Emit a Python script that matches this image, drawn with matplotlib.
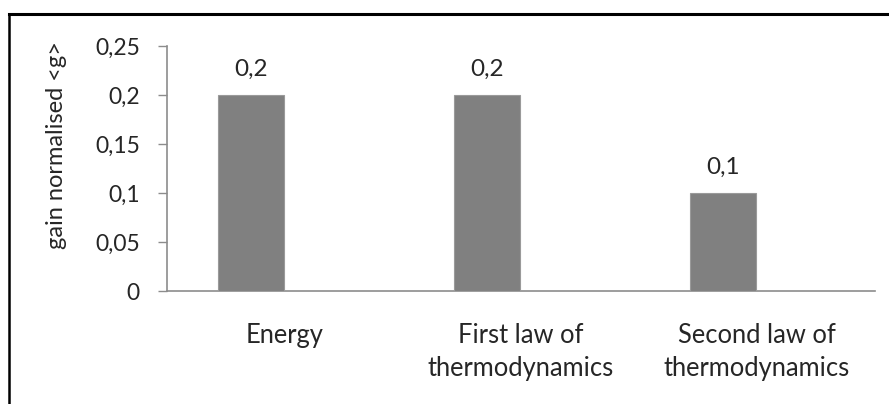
import matplotlib.pyplot as plt
from matplotlib.lines import Line2D

categories = ['Energy', 'First law of\nthermodynamics', 'Second law of\nthermodynamics']
gain = [0.2, 0.2, 0.1]
labels = ['0,2', '0,2', '0,1']
yticks = [0, 0.05, 0.1, 0.15, 0.2, 0.25]
ytick_labels = ['0', '0,05', '0,1', '0,15', '0,2', '0,25']

plt.rcParams['font.family'] = ['Lato', 'DejaVu Sans']
txt = '#262626'
axc = '#8c8c8c'

fig = plt.figure(figsize=(8.89, 4.04), dpi=100)
ax = fig.add_axes([167/889, 1-291/404, 708/889, 245/404])

x = list(range(len(categories)))
xb = [i - 0.145 for i in x]
ax.bar(xb, gain, width=0.28, color='#808080', edgecolor='#9a9a9a', linewidth=0.8, zorder=3)
for xi, v, s in zip(xb, gain, labels):
    ax.annotate(s, (xi, v), xytext=(0, 11), textcoords='offset points',
                ha='center', va='bottom', fontsize=17.5, color=txt)

ax.set_xlim(-0.5, 2.5)
ax.set_ylim(0, 0.25)
ax.set_yticks(yticks)
ax.set_yticklabels(ytick_labels)
ax.set_xticks(x)
ax.set_xticklabels(categories, linespacing=1.42)
ax.tick_params(axis='y', length=6.5, width=1, color=axc, pad=13, labelsize=16.5, labelcolor=txt)
ax.tick_params(axis='x', length=0, pad=23, labelsize=18.4, labelcolor=txt)
for s in ['top', 'right']:
    ax.spines[s].set_visible(False)
for s in ['left', 'bottom']:
    ax.spines[s].set_color(axc)
    ax.spines[s].set_linewidth(1.2)

fig.text(57/889, 1-145/404, 'gain normalised <g>', rotation=90, ha='center', va='center',
         fontsize=17, color=txt)

# outer frame (left and top edges only)
fig.add_artist(Line2D([8.5/889, 8.5/889], [0, 1-14/404], color='black', lw=1.8, transform=fig.transFigure))
fig.add_artist(Line2D([8.5/889, 1], [1-14/404, 1-14/404], color='black', lw=2.2, transform=fig.transFigure))

fig.savefig('out.png', dpi=100)
